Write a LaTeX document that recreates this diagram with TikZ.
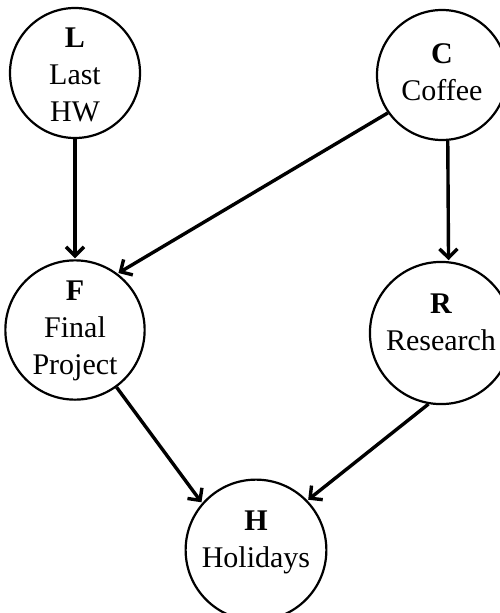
\documentclass[tikz,border=0pt]{standalone}
\usepackage{fontspec}
\setmainfont{Liberation Serif}
\usetikzlibrary{arrows.meta,shapes.geometric}
\newcommand{\nodetext}[4]{{\fontsize{30}{37}\selectfont\begin{tabular}{@{}c@{}}\rule{0pt}{#3}\textbf{#1}\\#2\rule[-#4]{0pt}{0pt}\end{tabular}}}
\tikzset{
  var/.style={circle, draw, line width=2.2pt, minimum size=130pt, inner sep=0pt},
  edge/.style={line width=3.4pt, -{Straight Barb[length=9pt,width=18pt]}, shorten >=1pt}
}
\begin{document}
\begin{tikzpicture}[x=1pt,y=-1pt]
\useasboundingbox (0,0) rectangle (499,613);
\node[var] (L) at (75,73) {\nodetext{L}{Last\\HW}{33.9pt}{11.1pt}};
\node[var] (C) at (442,75) {\nodetext{C}{Coffee}{25.9pt}{11.1pt}};
\node[var] (F) at (75,330) {\nodetext{F}{Final\\Project}{25.9pt}{11.1pt}};
\node[var] (R) at (441,333) {\nodetext{R}{Research}{25.9pt}{27.1pt}};
\node[var] (H) at (256,550) {\nodetext{H}{Holidays}{25.9pt}{27.1pt}};
\draw[edge] (L.270) -- (F.90);
\draw[edge] (C.215) -- (F.53);
\draw[edge] (C.275) -- (R.84);
\draw[edge] (F.306) -- (H.139);
\draw[edge] (R.260) -- (H.44);
\end{tikzpicture}
\end{document}
